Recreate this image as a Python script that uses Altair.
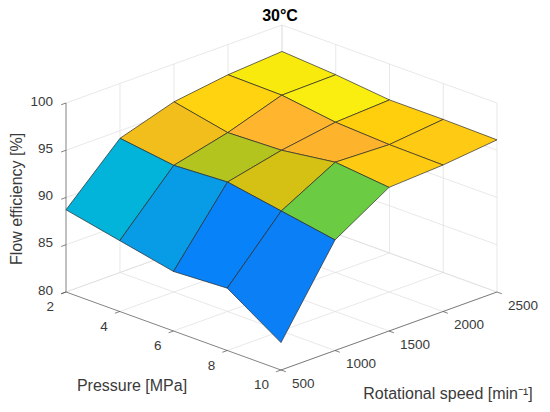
import altair as alt
import pandas as pd

# ---------------- data ----------------
pressure = [2, 4, 6, 8, 10]                 # MPa
speed = [500, 1000, 1500, 2000, 2500]       # min^-1
eff_p2 = [88.7, 94.2, 96.0, 96.8, 97.2]
eff_p4 = [87.5, 93.4, 94.8, 96.7, 96.8]
eff_p6 = [86.3, 93.7, 95.0, 95.9, 96.2]
eff_p8 = [86.6, 92.7, 95.8, 95.6, 96.2]
eff_p10 = [82.9, 91.7, 95.2, 95.5, 96.1]
efficiency = [eff_p2, eff_p4, eff_p6, eff_p8, eff_p10]

# face colours (pressure band x speed band)
col_p2_4 = ["#02B3DA", "#F2BE1C", "#FFD30F", "#F9EA0D"]
col_p4_6 = ["#089CE6", "#B3C41F", "#FFB52E", "#F9EE10"]
col_p6_8 = ["#0882F8", "#D4C114", "#FDB42C", "#FFCE0D"]
col_p8_10 = ["#0B7FF6", "#6BCB42", "#FFCB12", "#FFCA13"]
face_colors = [col_p2_4, col_p4_6, col_p6_8, col_p8_10]

z_ticks = [80, 85, 90, 95, 100]
p_ticks = pressure
s_ticks = speed

P0, P1 = 2, 10
S0, S1 = 500, 2500
Z0, Z1 = 80, 100

# ---------------- tables ----------------
rows = []
for i in range(4):
    for j in range(4):
        corners = [(i, j), (i + 1, j), (i + 1, j + 1), (i, j + 1)]
        for k, (a, b) in enumerate(corners):
            rows.append(dict(pid=f"{j - i + 10:02d}_{i}{j}", k=k,
                             p=pressure[a], s=speed[b], z=efficiency[a][b],
                             color=face_colors[i][j], depth=j - i))
patch_df = pd.DataFrame(rows).sort_values(["depth", "pid", "k"], ascending=[False, True, True])

grid = []
for z in z_ticks:
    grid.append((P0, S0, z, P0, S1, z))      # left back wall
    grid.append((P0, S1, z, P1, S1, z))      # right back wall
for s in s_ticks[1:]:
    grid.append((P0, s, Z0, P0, s, Z1))
    grid.append((P0, s, Z0, P1, s, Z0))      # floor
for p in p_ticks:
    grid.append((p, S1, Z0, p, S1, Z1))
    grid.append((p, S0, Z0, p, S1, Z0))      # floor
grid_df = pd.DataFrame(grid, columns=["p", "s", "z", "p2", "s2", "z2"])

axes = [(P0, S0, Z0, P0, S0, Z1), (P0, S0, Z0, P1, S0, Z0), (P1, S0, Z0, P1, S1, Z0)]
for z in z_ticks:
    axes.append((P0, S0, z, P0, S0 - 45, z))
for p in p_ticks:
    axes.append((p, S0, Z0, p, S0 - 45, Z0))
for s in s_ticks:
    axes.append((P1, s, Z0, P1 + 0.18, s, Z0))
axes_df = pd.DataFrame(axes, columns=["p", "s", "z", "p2", "s2", "z2"])

zlab_df = pd.DataFrame({"p": P0, "s": S0, "z": z_ticks, "t": [str(v) for v in z_ticks]})
plab_df = pd.DataFrame({"p": p_ticks, "s": S0, "z": Z0, "t": [str(v) for v in p_ticks]})
slab_df = pd.DataFrame({"p": P1, "s": s_ticks, "z": Z0, "t": [str(v) for v in s_ticks]})

# ---------------- projection (isometric-like view) ----------------
def proj(p, s, z):
    X = f"66 + 215*(datum.{p}-{P0})/{P1-P0} + 216*(datum.{s}-{S0})/{S1-S0}"
    Y = (f"292 + 78*(datum.{p}-{P0})/{P1-P0} - 78*(datum.{s}-{S0})/{S1-S0}"
         f" - 189*(datum.{z}-{Z0})/{Z1-Z0}")
    return X, Y

X1, Y1 = proj("p", "s", "z")
X2, Y2 = proj("p2", "s2", "z2")

xs = alt.Scale(domain=[8, 542], nice=False, zero=False)
ys = alt.Scale(domain=[8, 404], nice=False, zero=False, reverse=True)
xe = alt.X("X:Q", scale=xs, axis=None)
ye = alt.Y("Y:Q", scale=ys, axis=None)

FONT = "Liberation Sans"
TXT = "#3a3a3a"

grid_layer = alt.Chart(grid_df).transform_calculate(X=X1, Y=Y1, X2=X2, Y2=Y2).mark_rule(
    color="#dedede", strokeWidth=0.7).encode(x=xe, y=ye, x2="X2:Q", y2="Y2:Q")

axes_layer = alt.Chart(axes_df).transform_calculate(X=X1, Y=Y1, X2=X2, Y2=Y2).mark_rule(
    color="#4d4d4d", strokeWidth=0.7).encode(x=xe, y=ye, x2="X2:Q", y2="Y2:Q")

surface = alt.Chart(patch_df).transform_calculate(X=X1, Y=Y1).mark_line(
    interpolate="linear-closed", stroke="#2b2b2b", strokeWidth=0.7, strokeJoin="round"
).encode(x=xe, y=ye, detail="pid:N", order="k:Q",
         fill=alt.Fill("color:N", scale=None))

zlab = alt.Chart(zlab_df).transform_calculate(X=X1, Y=Y1).mark_text(
    align="right", baseline="middle", dx=-13, dy=-1.5, font=FONT, fontSize=13.5, color=TXT
).encode(x=xe, y=ye, text="t:N")
plab = alt.Chart(plab_df).transform_calculate(X=X1, Y=Y1).mark_text(
    align="right", baseline="middle", dx=-12, dy=15, font=FONT, fontSize=13.5, color=TXT
).encode(x=xe, y=ye, text="t:N")
slab = alt.Chart(slab_df).transform_calculate(X=X1, Y=Y1).mark_text(
    align="left", baseline="middle", dx=11, dy=13.5, font=FONT, fontSize=13.5, color=TXT
).encode(x=xe, y=ye, text="t:N")

def label(txt, x, y, **kw):
    d = dict(font=FONT, fontSize=16, color=TXT, align="center", baseline="middle")
    d.update(kw)
    return alt.Chart(pd.DataFrame({"t": [txt]})).mark_text(**d).encode(
        x=alt.value(x - 8), y=alt.value(y - 8), text="t:N")

titles = [
    label("30°C", 280, 16, fontWeight="bold", color="#000000"),
    label("Flow efficiency [%]", 17, 199, angle=270),
    label("Pressure [MPa]", 132, 386),
    label("Rotational speed [min⁻¹]", 448, 394),
]

chart = alt.layer(grid_layer, axes_layer, surface, zlab, plab, slab, *titles).properties(
    width=534, height=396, autosize="none", padding=0
).configure_view(stroke=None)

chart.save("out.html", embed_options={"renderer": "svg", "actions": False})
